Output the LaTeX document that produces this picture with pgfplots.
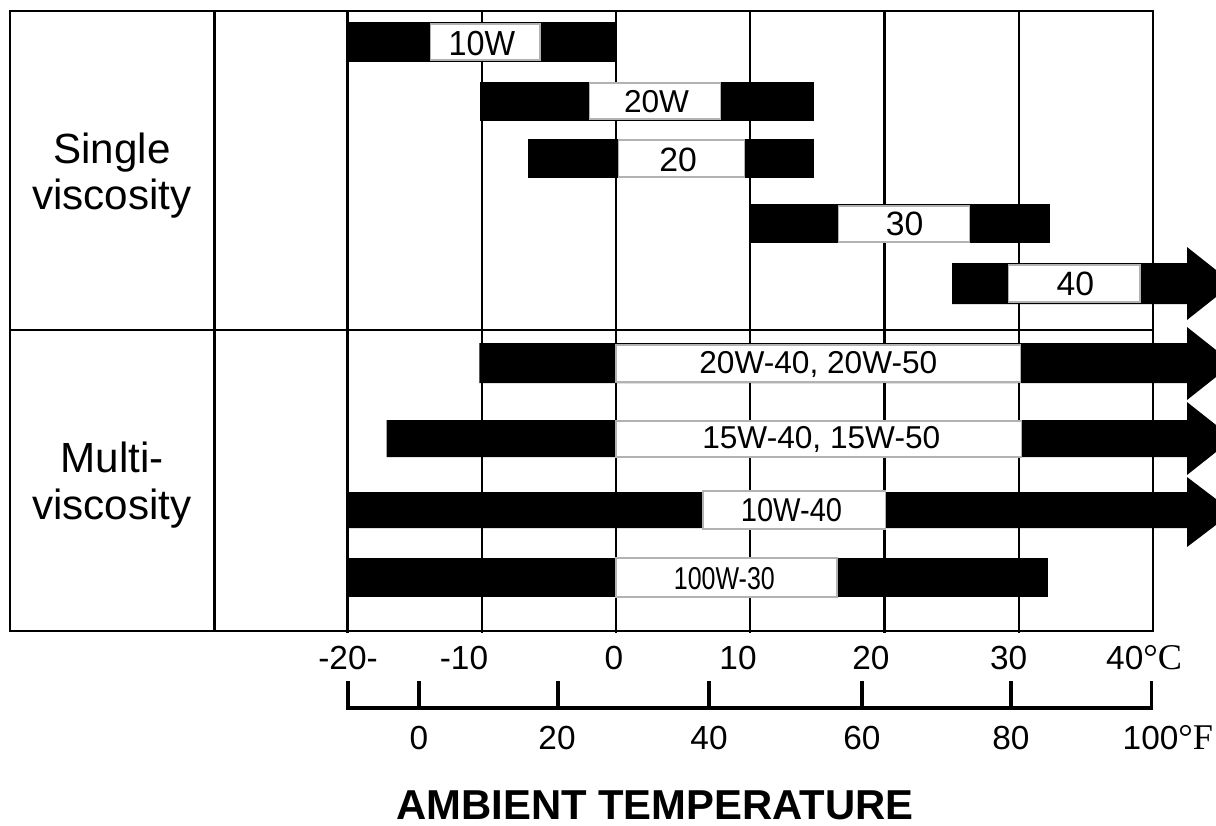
\documentclass[border=0pt]{standalone}
\usepackage{pgfplots}
\pgfplotsset{compat=1.18}
\usepackage{fontspec}
\setmainfont{Liberation Sans}
\newfontfamily\degfont{Liberation Serif}

% x in degrees C, y in picture rows (top = 0)
\newcommand{\lbl}[1]{\fontsize{#1}{#1}\selectfont}

\begin{document}
\begin{tikzpicture}
\begin{axis}[
    scale only axis,
    width=12.16cm, height=8.25cm,
    xmin=-45.88, xmax=44.69,
    ymin=0, ymax=825, y dir=reverse,
    hide axis, clip=true,
  ]
  % table frame and grid
  \draw[line width=0.7pt] (axis cs:-45.14,11) rectangle (axis cs:40,631);
  \draw[line width=0.7pt] (axis cs:-45.14,330) -- (axis cs:40,330);
  \draw[line width=0.7pt] (axis cs:-29.91,11) -- (axis cs:-29.91,631);
  \draw[line width=0.7pt] (axis cs:-20,11) -- (axis cs:-20,633);
  \draw[line width=0.7pt] (axis cs:-10,11) -- (axis cs:-10,633);
  \draw[line width=0.7pt] (axis cs:0,11) -- (axis cs:0,633);
  \draw[line width=0.7pt] (axis cs:10,11) -- (axis cs:10,633);
  \draw[line width=0.7pt] (axis cs:20,11) -- (axis cs:20,633);
  \draw[line width=0.7pt] (axis cs:30,11) -- (axis cs:30,633);

  % ---- single viscosity ----
  % 10W
  \addplot[fill=black, draw=none, mark=none] coordinates {(-20,22) (0,22) (0,62) (-20,62)} -- cycle;
  \addplot[fill=white, draw=gray!60, line width=0.3pt, mark=none] coordinates {(-13.85,24) (-5.66,24) (-5.66,60) (-13.85,60)} -- cycle;
  % 20W
  \addplot[fill=black, draw=none, mark=none] coordinates {(-10.13,82) (14.75,82) (14.75,121) (-10.13,121)} -- cycle;
  \addplot[fill=white, draw=gray!60, line width=0.3pt, mark=none] coordinates {(-1.94,83) (7.8,83) (7.8,119) (-1.94,119)} -- cycle;
  % 20
  \addplot[fill=black, draw=none, mark=none] coordinates {(-6.55,139) (14.75,139) (14.75,178) (-6.55,178)} -- cycle;
  \addplot[fill=white, draw=gray!60, line width=0.3pt, mark=none] coordinates {(0.22,140) (9.6,140) (9.6,177) (0.22,177)} -- cycle;
  % 30
  \addplot[fill=black, draw=none, mark=none] coordinates {(9.9,204) (32.33,204) (32.33,243) (9.9,243)} -- cycle;
  \addplot[fill=white, draw=gray!60, line width=0.3pt, mark=none] coordinates {(16.54,206) (26.3,206) (26.3,242) (16.54,242)} -- cycle;
  % 40 (open ended)
  \addplot[fill=black, draw=none, mark=none] coordinates {(25.03,263) (42.53,263) (42.53,247) (45.96,283.5) (42.53,320) (42.53,304) (25.03,304)} -- cycle;
  \addplot[fill=white, draw=gray!60, line width=0.3pt, mark=none] coordinates {(29.2,265) (39.03,265) (39.03,302) (29.2,302)} -- cycle;

  % ---- multi viscosity ----
  % 20W-40, 20W-50
  \addplot[fill=black, draw=none, mark=none] coordinates {(-10.17,343) (42.53,343) (42.53,327) (45.96,363.5) (42.53,400) (42.53,383) (-10.17,383)} -- cycle;
  \addplot[fill=white, draw=gray!60, line width=0.3pt, mark=none] coordinates {(0,345) (30.1,345) (30.1,382) (0,382)} -- cycle;
  % 15W-40, 15W-50
  \addplot[fill=black, draw=none, mark=none] coordinates {(-17.09,420) (42.53,420) (42.53,402) (45.96,438.5) (42.53,475) (42.53,457) (-17.09,457)} -- cycle;
  \addplot[fill=white, draw=gray!60, line width=0.3pt, mark=none] coordinates {(0,421) (30.2,421) (30.2,457) (0,457)} -- cycle;
  % 10W-40
  \addplot[fill=black, draw=none, mark=none] coordinates {(-20,492) (42.53,492) (42.53,477) (45.96,512) (42.53,547) (42.53,528) (-20,528)} -- cycle;
  \addplot[fill=white, draw=gray!60, line width=0.3pt, mark=none] coordinates {(6.48,491) (20.04,491) (20.04,529) (6.48,529)} -- cycle;
  % 100W-30
  \addplot[fill=black, draw=none, mark=none] coordinates {(-20,558) (32.18,558) (32.18,597) (-20,597)} -- cycle;
  \addplot[fill=white, draw=gray!60, line width=0.3pt, mark=none] coordinates {(0,558) (16.46,558) (16.46,597) (0,597)} -- cycle;

  % bar labels
  \node[anchor=base, inner sep=0pt, xscale=0.93] at (axis cs:-9.98,55.5) {\lbl{9.9}10W};
  \node[anchor=base, inner sep=0pt] at (axis cs:3.02,112.5) {\lbl{9}20W};
  \node[anchor=base, inner sep=0pt] at (axis cs:4.62,171.5) {\lbl{9.6}20};
  \node[anchor=base, inner sep=0pt] at (axis cs:21.49,235) {\lbl{9.6}30};
  \node[anchor=base, inner sep=0pt] at (axis cs:34.22,295.5) {\lbl{9.6}40};
  \node[anchor=base, inner sep=0pt] at (axis cs:15.07,373) {\lbl{9}20W-40, 20W-50};
  \node[anchor=base, inner sep=0pt] at (axis cs:15.29,448.5) {\lbl{9}15W-40, 15W-50};
  \node[anchor=base, inner sep=0pt, xscale=0.88] at (axis cs:13.07,521.5) {\lbl{9.4}10W-40};
  \node[anchor=base, inner sep=0pt, xscale=0.79] at (axis cs:8.07,589.3) {\lbl{9}100W-30};

  % group labels
  \node[anchor=base, inner sep=0pt] at (axis cs:-37.54,163) {\lbl{12}Single};
  \node[anchor=base, inner sep=0pt] at (axis cs:-37.54,209) {\lbl{12}viscosity};
  \node[anchor=base, inner sep=0pt] at (axis cs:-37.54,472) {\lbl{12}Multi-};
  \node[anchor=base, inner sep=0pt] at (axis cs:-37.54,519) {\lbl{12}viscosity};

  % Celsius scale
  \node[anchor=base, inner sep=0pt] at (axis cs:-19.96,669) {\lbl{9.5}-20-};
  \node[anchor=base, inner sep=0pt] at (axis cs:-11.32,669) {\lbl{9.5}-10};
  \node[anchor=base, inner sep=0pt] at (axis cs:-0.15,669) {\lbl{9.5}0};
  \node[anchor=base, inner sep=0pt] at (axis cs:9.09,669) {\lbl{9.5}10};
  \node[anchor=base, inner sep=0pt] at (axis cs:18.99,669) {\lbl{9.5}20};
  \node[anchor=base, inner sep=0pt] at (axis cs:29.24,669) {\lbl{9.5}30};
  \node[anchor=base west, inner sep=0pt] at (axis cs:36.46,669) {\lbl{9.5}40{\degfont\fontsize{10.3}{10.3}\selectfont °C}};

  % Fahrenheit bracket
  \draw[line width=1.1pt] (axis cs:-19.96,681) -- (axis cs:-19.96,708) -- (axis cs:39.89,708) -- (axis cs:39.89,681);
  \draw[line width=1.1pt] (axis cs:-14.67,681) -- (axis cs:-14.67,708);
  \draw[line width=1.1pt] (axis cs:-4.32,681) -- (axis cs:-4.32,708);
  \draw[line width=1.1pt] (axis cs:6.93,681) -- (axis cs:6.93,708);
  \draw[line width=1.1pt] (axis cs:18.32,681) -- (axis cs:18.32,708);
  \draw[line width=1.1pt] (axis cs:29.42,681) -- (axis cs:29.42,708);
  \node[anchor=base, inner sep=0pt] at (axis cs:-14.67,749) {\lbl{9.5}0};
  \node[anchor=base, inner sep=0pt] at (axis cs:-4.39,749) {\lbl{9.5}20};
  \node[anchor=base, inner sep=0pt] at (axis cs:6.93,749) {\lbl{9.5}40};
  \node[anchor=base, inner sep=0pt] at (axis cs:18.32,749) {\lbl{9.5}60};
  \node[anchor=base, inner sep=0pt] at (axis cs:29.42,749) {\lbl{9.5}80};
  \node[anchor=base west, inner sep=0pt] at (axis cs:37.69,749) {\lbl{9.5}100{\degfont\fontsize{10.3}{10.3}\selectfont °F}};

  \node[anchor=base, inner sep=0pt] at (axis cs:2.9,819) {\lbl{11.9}\bfseries AMBIENT TEMPERATURE};
\end{axis}
% keep the page as large as the axis box
\path (current axis.south west) rectangle (current axis.north east);
\end{tikzpicture}
\end{document}
